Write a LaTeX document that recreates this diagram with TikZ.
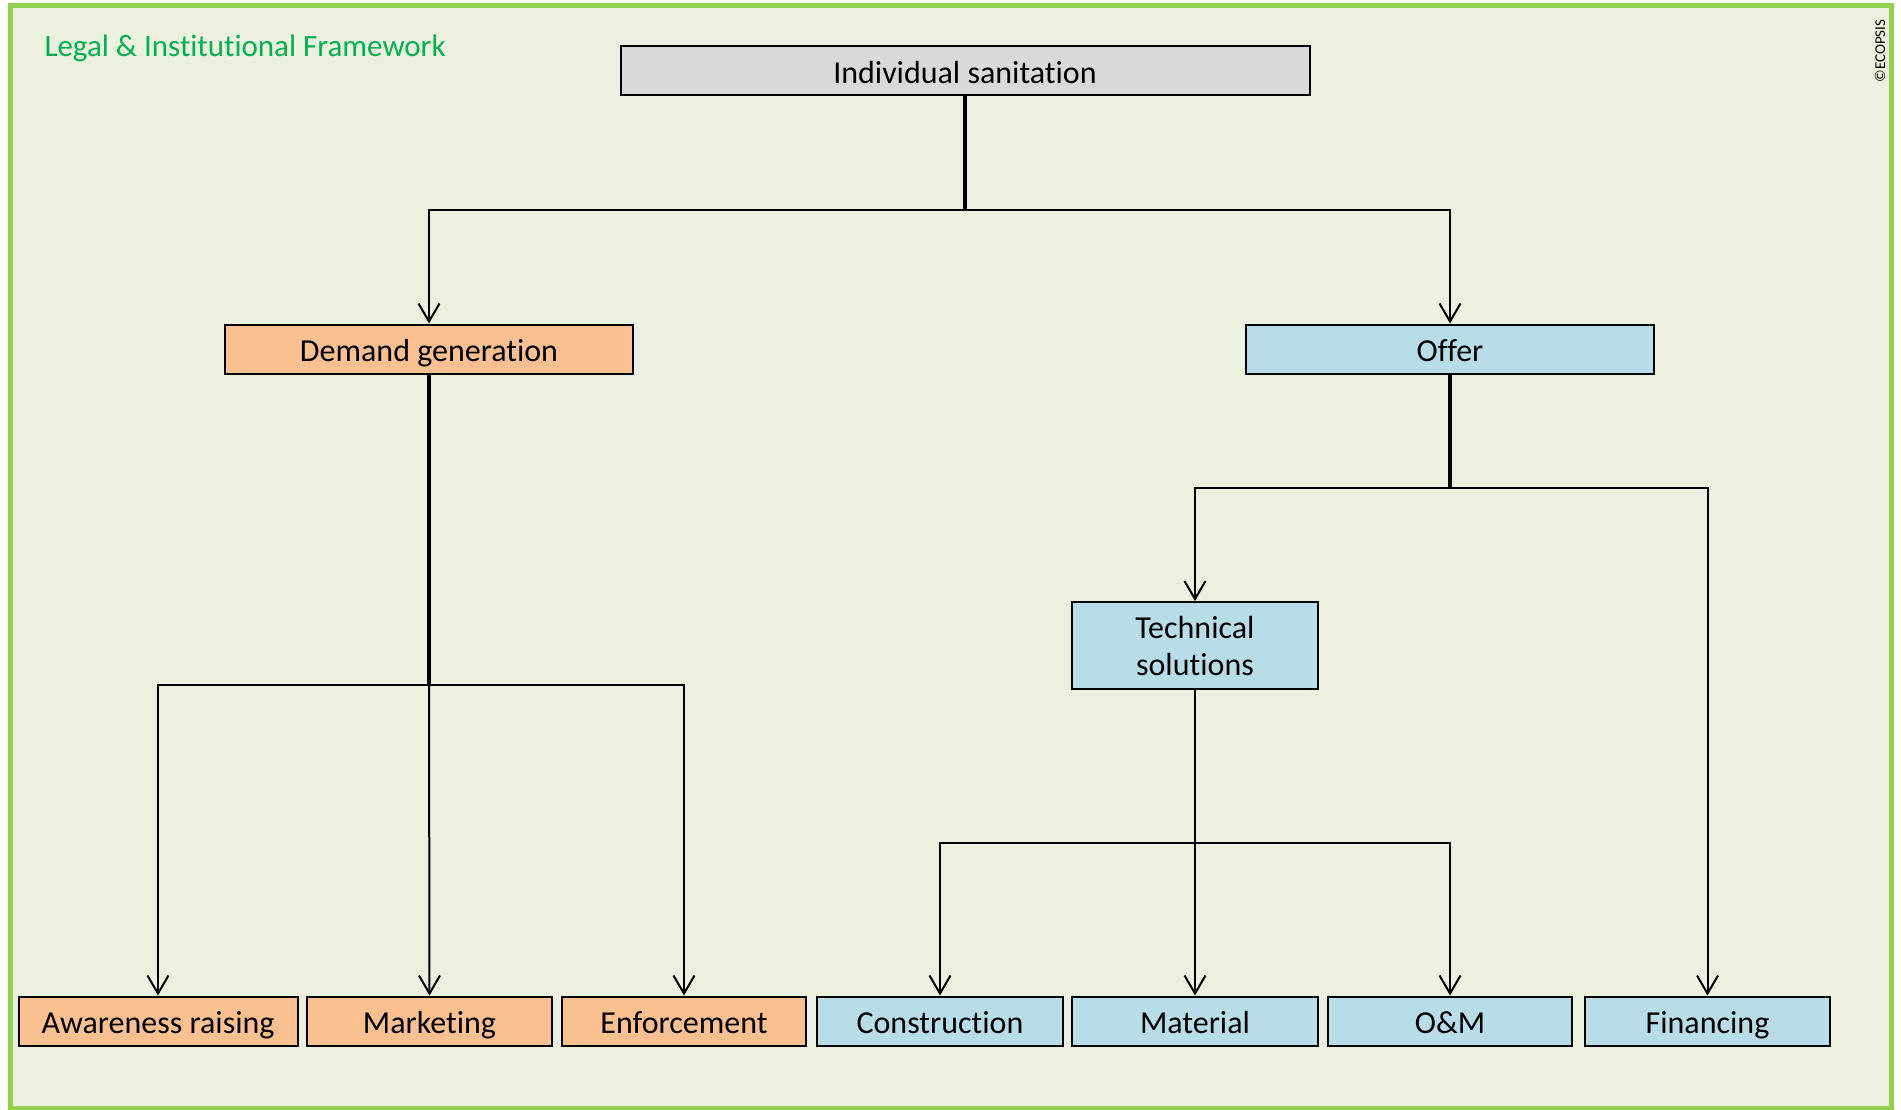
\documentclass[tikz,border=0pt]{standalone}
\usepackage{xcolor}
\usepackage{fontspec}
\setmainfont{Carlito}[Ligatures=NoCommon]
\usetikzlibrary{arrows.meta}

\definecolor{paneback}{HTML}{EBF1DE}
\definecolor{paneframe}{HTML}{92D050}
\definecolor{lawgreen}{HTML}{00B050}
\definecolor{greybox}{HTML}{D9D9D9}
\definecolor{orangebox}{HTML}{FAC090}
\definecolor{bluebox}{HTML}{B7DEE8}

\begin{document}
\begin{tikzpicture}[x=1pt,y=-1pt,
  box/.style={draw=black,line width=2pt,inner sep=0pt,minimum height=49pt,
    font=\fontsize{32}{37}\selectfont,align=center},
  oneline/.style={text height=30pt,text depth=5pt},
  grey/.style={box,oneline,fill=greybox},
  demandbox/.style={box,oneline,fill=orangebox},
  offerbox/.style={box,oneline,fill=bluebox},
  stem/.style={line width=3.5pt},
  branch/.style={line width=2pt,-{Straight Barb[length=18pt,width=21pt,line width=2pt]}}]
\useasboundingbox (0,0) rectangle (1901,1109);
\fill[white] (0,0) rectangle (1901,1109);
\draw[line width=5pt,draw=paneframe,fill=paneback] (10,5.5) rectangle (1891.5,1108);
\node[anchor=base west,text=lawgreen,font=\fontsize{31}{37}\selectfont] (law) at (41,56) {Legal \& Institutional Framework};
\node[rotate=90,font=\fontsize{15}{18}\selectfont] (copy) at (1880,51) {©ECOPSIS};

\node[grey,minimum width=689pt] (top) at (965,70.5) {Individual sanitation};
\node[demandbox,minimum width=408pt] (demand) at (429,349) {Demand generation};
\node[offerbox,minimum width=408pt] (offer) at (1450,349) {Offer};
\node[box,fill=bluebox,minimum width=246pt,minimum height=87pt] (tech) at (1195,645.5) {Technical\\solutions};

\node[demandbox,minimum width=279pt] (aware) at (158,1021) {Awareness raising};
\node[demandbox,minimum width=245pt] (market) at (429.5,1021) {Marketing};
\node[demandbox,minimum width=244pt] (enforce) at (684,1021) {Enforcement};
\node[offerbox,minimum width=246pt] (build) at (940,1021) {Construction};
\node[offerbox,minimum width=246pt] (material) at (1195,1021) {Material};
\node[offerbox,minimum width=244pt] (om) at (1450,1021) {O\&M};
\node[offerbox,minimum width=245pt] (finance) at (1707.5,1021) {Financing};

\coordinate (topfork) at (965,210);
\coordinate (demandfork) at (429,685);
\coordinate (offerfork) at (1450,488);
\coordinate (techfork) at (1195,843);

\draw[stem] (top.south) -- (topfork);
\draw[branch] (topfork) -| (demand.north);
\draw[branch] (topfork) -| (offer.north);

\draw[stem] (demand.south) -- (demandfork);
\draw[branch] (demandfork) -| (aware.north);
\draw[branch] (demandfork) -- (market.north);
\draw[branch] (demandfork) -| (enforce.north);

\draw[stem] (offer.south) -- (offerfork);
\draw[branch] (offerfork) -| (tech.north);
\draw[branch] (offerfork) -| (finance.north);

\draw[line width=2.5pt] (tech.south) -- (techfork);
\draw[branch] (techfork) -| (build.north);
\draw[branch] (techfork) -- (material.north);
\draw[branch] (techfork) -| (om.north);
\end{tikzpicture}
\end{document}
